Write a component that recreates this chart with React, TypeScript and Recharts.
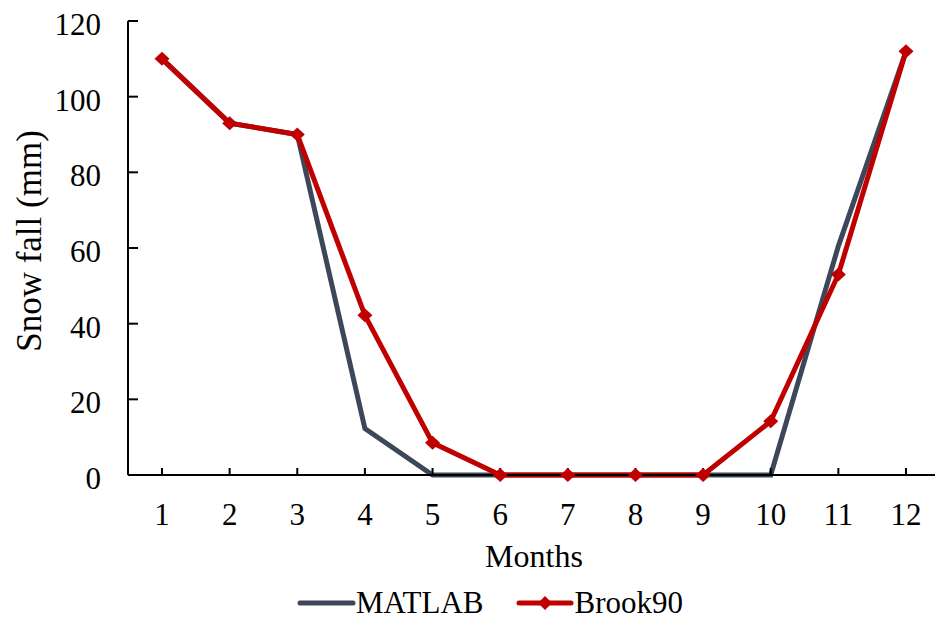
import { LineChart, Line, XAxis, YAxis, Legend, Label } from 'recharts';

const months = ['1', '2', '3', '4', '5', '6', '7', '8', '9', '10', '11', '12'];
const matlab = [110, 93, 90, 12.3, 0, 0, 0, 0, 0, 0, 60.5, 112];
const brook90 = [110, 93, 90, 42.2, 8.5, 0, 0, 0, 0, 14.2, 53, 112];
const yTicks = [0, 20, 40, 60, 80, 100, 120];

const data = months.map((m, i) => ({ month: m, matlab: matlab[i], brook90: brook90[i] }));

const FONT = 'Liberation Serif, Times New Roman, DejaVu Serif, serif';
const RED = '#C00000';
const SLATE = '#3C4759';
const FS = 31;

const Diamond = (props: any) => {
  const { cx, cy, index } = props;
  if (cx == null || cy == null) return null;
  return (
    <path
      key={'d' + index}
      d={`M${cx},${cy - 7}L${cx + 7.5},${cy}L${cx},${cy + 7}L${cx - 7.5},${cy}Z`}
      fill={RED}
    />
  );
};

const renderLegend = () => (
  <div style={{ display: 'flex', justifyContent: 'center', alignItems: 'center', fontFamily: FONT, fontSize: 31, color: '#000' }}>
    <svg width={59} height={14}>
      <line x1={3} y1={7} x2={56} y2={7} stroke={SLATE} strokeWidth={5} strokeLinecap="round" />
    </svg>
    <span style={{ marginRight: 33 }}>MATLAB</span>
    <svg width={58} height={16}>
      <line x1={3} y1={8} x2={55} y2={8} stroke={RED} strokeWidth={5} strokeLinecap="round" />
      <path d="M29,1L36,8L29,15L22,8Z" fill={RED} />
    </svg>
    <span>Brook90</span>
  </div>
);

export default function App() {
  return (
    <div style={{ position: 'absolute', left: 0, top: 0, width: 935, height: 619, overflow: 'hidden', background: '#fff' }}>
      <LineChart width={940} height={619} data={data} margin={{ top: 21, right: 0, bottom: 0, left: 0 }} style={{ fontFamily: FONT }}>
        <XAxis
          dataKey="month"
          height={144}
          padding={{ left: 34, right: 34 }}
          axisLine={{ stroke: '#000', strokeWidth: 2 }}
          tickLine={{ stroke: '#000', strokeWidth: 2 }}
          tickSize={-7}
          tickMargin={35}
          tick={{ fill: '#000', fontSize: FS, fontFamily: FONT }}
          interval={0}
        >
          <Label value="Months" position="insideTop" offset={69} style={{ fill: '#000', fontSize: 32, fontFamily: FONT }} />
        </XAxis>
        <YAxis
          width={128}
          domain={[0, 120]}
          ticks={yTicks}
          interval={0}
          axisLine={{ stroke: '#000', strokeWidth: 2 }}
          tickLine={{ stroke: '#000', strokeWidth: 2 }}
          tickSize={-10}
          tickMargin={37}
          tick={{ fill: '#000', fontSize: FS, fontFamily: FONT, dy: 3 }}
        >
          <Label
            content={(p: any) => {
              const vb = p.viewBox || { x: 0, y: 21, width: 128, height: 454 };
              const x = vb.x + 29;
              const y = vb.y + vb.height / 2 - 7;
              return (
                <text x={x} y={y} transform={`rotate(-90 ${x} ${y})`} textAnchor="middle" dominantBaseline="central" fill="#000" fontSize={35} fontFamily={FONT}>
                  Snow fall (mm)
                </text>
              );
            }}
          />
        </YAxis>
        <Line type="linear" dataKey="matlab" name="MATLAB" stroke={SLATE} strokeWidth={5} dot={false} activeDot={false} isAnimationActive={false} />
        <Line type="linear" dataKey="brook90" name="Brook90" stroke={RED} strokeWidth={5} dot={<Diamond />} activeDot={false} isAnimationActive={false} />
        <Legend verticalAlign="middle" align="center" layout="horizontal" content={renderLegend} wrapperStyle={{ top: 585, left: 0, width: 980 }} />
      </LineChart>
    </div>
  );
}
